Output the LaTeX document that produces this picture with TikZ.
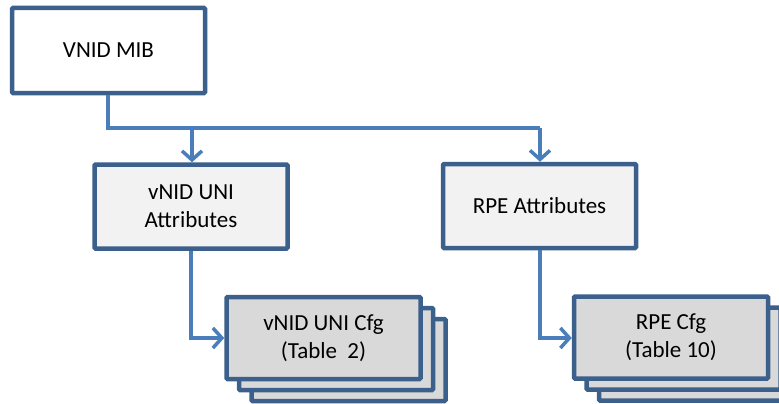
\documentclass[tikz,border=0pt]{standalone}
\usepackage{fontspec}
\setmainfont{Carlito}
\usetikzlibrary{arrows.meta}
\definecolor{bordc}{RGB}{60,96,140}
\definecolor{linkc}{RGB}{74,126,187}
\definecolor{attrfill}{RGB}{242,242,242}
\definecolor{cfgfill}{RGB}{217,217,217}
\tikzset{
  box/.style={draw=bordc, line width=4.5pt, rounded corners=1pt, align=center,
    font=\fontsize{23}{28}\selectfont, inner sep=0pt},
  mibbox/.style={box, fill=white, minimum width=193pt, minimum height=85pt},
  attrbox/.style={box, fill=attrfill, minimum width=193pt, minimum height=84pt},
  cfgbox/.style={box, fill=cfgfill, minimum width=194pt, minimum height=82pt},
  link/.style={draw=linkc, line width=3.5pt},
  arr/.style={link, -{Straight Barb[length=9pt,width=20pt,line width=3.5pt]}}
}
\begin{document}
\begin{tikzpicture}[x=1pt,y=-1pt]
\useasboundingbox (0,0) rectangle (779,404);
\clip (0,0) rectangle (779,404);
\node[mibbox] (mib) at (108.5,50.5) {VNID MIB};
\node[attrbox] (uniattr) at (191,206.5) {vNID UNI\\Attributes};
\node[attrbox] (rpeattr) at (539.5,206) {RPE Attributes};
% stacks
\node[cfgbox] (unicfgc) at (348.5,360) {};
\node[cfgbox] (unicfgb) at (336,349) {};
\node[cfgbox] (unicfg) at (323.5,338) {vNID UNI Cfg\\(Table~~2)};
\node[cfgbox] (rpecfgc) at (696,359.5) {};
\node[cfgbox] (rpecfgb) at (683.5,348.5) {};
\node[cfgbox] (rpecfg) at (671,337.5) {RPE Cfg\\(Table 10)};
% connectors
\coordinate (j1) at (108,128);
\coordinate (j2) at (540,128);
\coordinate (j3) at (192,128);
\draw[link] (mib.south -| j1) -- (j1) -- (j2);
\draw[arr] (j2) -- (rpeattr.north -| j2);
\draw[arr] (j3) -- (uniattr.north -| j3);
\coordinate (k1) at (191,338);
\coordinate (k2) at (540,338);
\draw[arr] (uniattr.south -| k1) -- (k1) -- (unicfg.west |- k1);
\draw[arr] (rpeattr.south -| k2) -- (k2) -- (rpecfg.west |- k2);
\end{tikzpicture}
\end{document}
